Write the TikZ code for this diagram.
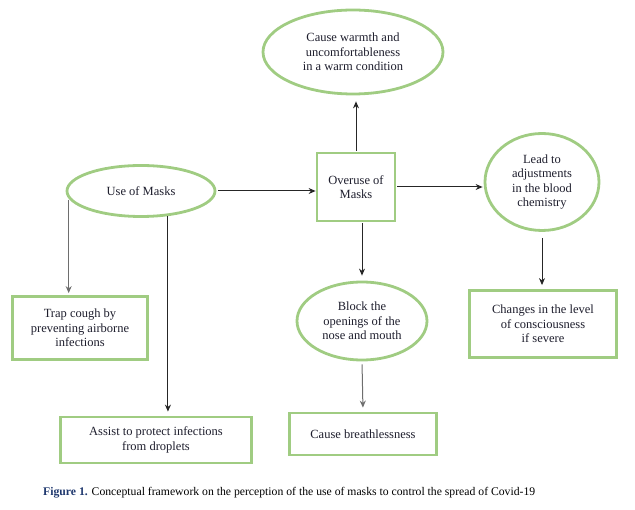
\documentclass[tikz,border=0pt]{standalone}
\usepackage{fontspec}
\setmainfont{Liberation Serif}
\usetikzlibrary{shapes.geometric,arrows.meta}
\definecolor{gborder}{RGB}{160,204,130}
\definecolor{txt}{RGB}{30,30,45}
\definecolor{capblue}{RGB}{31,56,110}
\definecolor{grayline}{RGB}{110,110,110}
\tikzset{
  oval/.style={ellipse,draw=gborder,line width=2.8pt,inner sep=0pt,align=center,text=txt,font=\fontsize{12.5}{14.5}\selectfont},
  gbox/.style={rectangle,draw=gborder,line width=2.8pt,inner sep=0pt,align=center,text=txt,font=\fontsize{12.5}{14.5}\selectfont},
  arr/.style={-{Stealth[length=7pt,width=6pt]},line width=1pt,draw=black!85},
}
\begin{document}
\begin{tikzpicture}[x=1pt,y=-1pt]
\useasboundingbox (0,0) rectangle (635,510);
\node[oval,minimum width=180pt,minimum height=84pt] (warm) at (353,52) {Cause warmth and\\uncomfortableness\\in a warm condition};
\node[oval,minimum width=148pt,minimum height=51pt] (use) at (141,191) {Use of Masks};
\node[gbox,minimum width=78pt,minimum height=68pt] (over) at (356,187) {Overuse of\\Masks};
\node[oval,minimum width=114pt,minimum height=97pt] (lead) at (542,182) {Lead to\\adjustments\\in the blood\\chemistry};
\node[gbox,minimum width=147pt,minimum height=67pt] (changes) at (543,324) {Changes in the level\\of consciousness\\if severe};
\node[gbox,minimum width=135pt,minimum height=63pt] (trap) at (80,328) {Trap cough by\\preventing airborne\\infections};
\node[oval,minimum width=130pt,minimum height=78pt] (block) at (362,321) {Block the\\openings of the\\nose and mouth};
\node[gbox,minimum width=147pt,minimum height=42pt] (breath) at (363,434) {Cause breathlessness};
\node[gbox,minimum width=191pt,minimum height=46pt] (assist) at (156,440) {Assist to protect infections\\from droplets};
\node[anchor=base west,inner sep=0pt,font=\fontsize{11.7}{13}\selectfont,text=black] (cap) at (43,496) {\textcolor{capblue}{\textbf{Figure 1.}} Conceptual framework on the perception of the use of masks to control the spread of Covid-19};
% connectors
\draw[arr,shorten <=2pt] (use.east) -- (use.east -| over.west);
\draw[arr,shorten <=1pt,shorten >=6pt] (over.north) -- (over.north |- warm.south);
\draw[arr,shorten <=1pt,shorten >=1pt] (over.east) -- (over.east -| lead.west);
\draw[arr,shorten <=6pt,shorten >=4pt] (lead.south) -- (lead.south |- changes.north);
\draw[arr,shorten <=1pt,shorten >=5pt] (block.north |- over.south) -- (block.north);
\draw[arr,draw=grayline,shorten <=3pt,shorten >=4pt] (block.south) -- (breath.north);
\draw[arr,draw=grayline,shorten <=1pt,shorten >=2pt] (use.186) -- (use.186 |- trap.north);
\draw[arr,shorten <=0pt,shorten >=4pt] (use.317) -- (use.317 |- assist.north);
\end{tikzpicture}
\end{document}
